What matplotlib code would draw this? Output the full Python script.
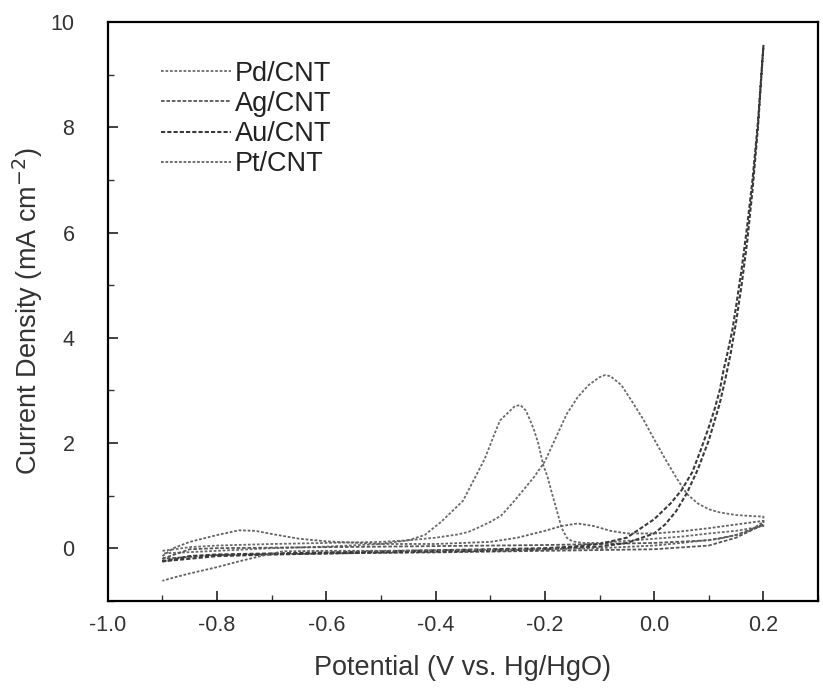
import numpy as np
import matplotlib
matplotlib.use("Agg")
import matplotlib.pyplot as plt
from matplotlib.ticker import MultipleLocator

plt.rcParams['font.family'] = ['Liberation Sans', 'DejaVu Sans']

# Pd/CNT : forward scan then reverse scan
pd_E = [-0.9, -0.85, -0.8, -0.7, -0.6, -0.5, -0.45, -0.4, -0.36, -0.34, -0.32, -0.3, -0.28, -0.26,
        -0.24, -0.22, -0.2, -0.18, -0.16, -0.14, -0.12, -0.1, -0.09, -0.08, -0.06, -0.04, -0.02,
        0.0, 0.02, 0.04, 0.06, 0.08, 0.1, 0.12, 0.15, 0.18, 0.2,
        0.2, 0.15, 0.1, 0.05, 0.0, -0.05, -0.1, -0.13, -0.15, -0.16, -0.17, -0.175, -0.187, -0.195,
        -0.203, -0.212, -0.22, -0.227, -0.235, -0.245, -0.255, -0.265, -0.282, -0.295, -0.31,
        -0.33, -0.35, -0.37, -0.39, -0.42, -0.45, -0.5, -0.6, -0.7, -0.8, -0.9]
pd_j = [-0.05, 0.02, 0.05, 0.08, 0.1, 0.12, 0.15, 0.2, 0.26, 0.31, 0.4, 0.5, 0.62, 0.85,
        1.1, 1.35, 1.65, 2.1, 2.55, 2.87, 3.1, 3.25, 3.29, 3.27, 3.1, 2.78, 2.45,
        2.07, 1.7, 1.35, 1.03, 0.85, 0.74, 0.68, 0.63, 0.61, 0.6,
        0.42, 0.33, 0.28, 0.22, 0.18, 0.14, 0.1, 0.1, 0.13, 0.2, 0.4, 0.6, 1.04, 1.35,
        1.58, 1.99, 2.25, 2.43, 2.62, 2.72, 2.7, 2.6, 2.43, 2.1, 1.7,
        1.3, 0.9, 0.7, 0.5, 0.25, 0.15, 0.08, 0.03, 0.0, -0.05, -0.1]

# Ag/CNT
ag_E = [-0.9, -0.85, -0.8, -0.6, -0.4, -0.2, 0.0, 0.1, 0.15, 0.2,
        0.2, 0.15, 0.1, 0.0, -0.2, -0.4, -0.6, -0.8, -0.9]
ag_j = [-0.2, -0.02, 0.0, 0.02, 0.04, 0.06, 0.1, 0.15, 0.25, 0.45,
        0.45, 0.2, 0.05, -0.02, -0.05, -0.08, -0.1, -0.13, -0.2]

# Au/CNT
au_E = [-0.9, -0.85, -0.8, -0.7, -0.6, -0.5, -0.4, -0.3, -0.2, -0.15, -0.1, -0.05, 0.0, 0.03,
        0.05, 0.07, 0.085, 0.1, 0.11, 0.12, 0.127, 0.135, 0.143, 0.15, 0.16, 0.17, 0.18, 0.19, 0.2,
        0.19, 0.18, 0.17, 0.16, 0.15, 0.14, 0.13, 0.12, 0.1, 0.08, 0.06, 0.04, 0.02, 0.0,
        -0.05, -0.1, -0.2, -0.3, -0.5, -0.7, -0.8, -0.9]
au_j = [-0.25, -0.15, -0.12, -0.1, -0.08, -0.06, -0.04, -0.02, 0.0, 0.03, 0.08, 0.2, 0.55, 0.85,
        1.1, 1.45, 1.86, 2.3, 2.62, 3.0, 3.38, 3.75, 4.14, 4.6, 5.3, 6.1, 7.0, 8.1, 9.55,
        8.0, 6.8, 5.8, 5.0, 4.3, 3.7, 3.2, 2.75, 2.05, 1.5, 1.05, 0.7, 0.45, 0.28,
        0.1, 0.03, -0.02, -0.05, -0.08, -0.12, -0.15, -0.25]

# Pt/CNT
pt_E = [-0.9, -0.88, -0.85, -0.8, -0.76, -0.73, -0.7, -0.65, -0.6, -0.5, -0.4, -0.3, -0.25, -0.2,
        -0.17, -0.14, -0.11, -0.08, -0.05, 0.0, 0.05, 0.1, 0.15, 0.2,
        0.2, 0.17, 0.12, 0.05, 0.0, -0.1, -0.2, -0.3, -0.4, -0.5, -0.6, -0.68, -0.72, -0.76,
        -0.8, -0.85, -0.88, -0.9]
pt_j = [-0.15, 0.0, 0.12, 0.25, 0.34, 0.33, 0.27, 0.18, 0.13, 0.08, 0.08, 0.12, 0.2, 0.33,
        0.42, 0.47, 0.42, 0.33, 0.28, 0.28, 0.32, 0.38, 0.45, 0.52,
        0.5, 0.3, 0.18, 0.1, 0.05, 0.0, -0.02, -0.03, -0.04, -0.05, -0.05, -0.06, -0.15, -0.25,
        -0.36, -0.48, -0.56, -0.62]

xticks = [-1.0, -0.8, -0.6, -0.4, -0.2, 0.0, 0.2]
yticks = [0, 2, 4, 6, 8, 10]

fig = plt.figure(figsize=(8.23, 6.89), dpi=100)
ax = fig.add_axes([0.131, 0.128, 0.863, 0.840])

ax.plot(pd_E, pd_j, color='#6a6a6a', lw=1.3, ls=(0, (1.5, 1)), label='Pd/CNT')
ax.plot(ag_E, ag_j, color='#555555', lw=1.3, ls=(0, (2, 1)), label='Ag/CNT')
ax.plot(au_E, au_j, color='#3a3a3a', lw=1.5, ls=(0, (2, 1)), label='Au/CNT')
ax.plot(pt_E, pt_j, color='#606060', lw=1.3, ls=(0, (1.5, 1)), label='Pt/CNT')

ax.set_xlim(-1.0, 0.3)
ax.set_ylim(-1, 10)
ax.set_xticks(xticks)
ax.set_xticklabels(['-1.0', '-0.8', '-0.6', '-0.4', '-0.2', '0.0', '0.2'])
ax.set_yticks(yticks)
ax.xaxis.set_minor_locator(MultipleLocator(0.1))
ax.yaxis.set_minor_locator(MultipleLocator(1))
ax.tick_params(which='both', direction='in', top=False, right=False, labelsize=15.5,
               colors='#333333')
ax.tick_params(axis='x', which='major', pad=10)
ax.tick_params(axis='y', which='major', pad=24)
ax.tick_params(which='major', length=7, width=1.3)
ax.tick_params(which='minor', length=4, width=1.0)
for s in ax.spines.values():
    s.set_linewidth(1.6)

ax.set_xlabel('Potential (V vs. Hg/HgO)', fontsize=19.5, color='#333333', labelpad=14)
ax.set_ylabel('Current Density (mA cm$^{-2}$)', fontsize=19.5, color='#333333', labelpad=4)

ax.legend(loc='upper left', frameon=False, fontsize=19.5, handlelength=2.6, handletextpad=0.15,
          labelspacing=0.15, bbox_to_anchor=(0.04, 0.975), labelcolor='#222222')

fig.savefig('out.png', dpi=100)
